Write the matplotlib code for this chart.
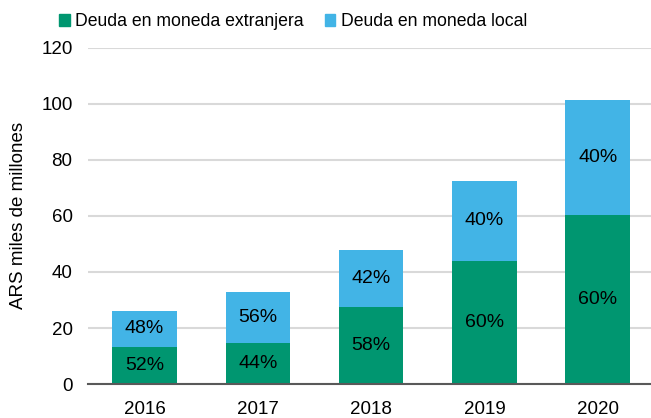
import numpy as np
import matplotlib.pyplot as plt
from matplotlib.patches import Patch

plt.rcParams.update({"font.family": ["Liberation Sans", "DejaVu Sans"], "font.size": 13})

years = ["2016", "2017", "2018", "2019", "2020"]
total = [26.2, 32.8, 47.9, 72.6, 101.2]
extranjera = [13.3, 14.5, 27.5, 43.8, 60.2]
local = [t - e for t, e in zip(total, extranjera)]
pct_ext = ["52%", "44%", "58%", "60%", "60%"]
pct_loc = ["48%", "56%", "42%", "40%", "40%"]

green = "#009670"
blue = "#42B4E6"

fig = plt.figure(figsize=(6.51, 4.18), dpi=100)
ax = fig.add_axes([0.135, 0.081, 0.865, 0.805])

x = np.arange(len(years))
w = 0.57
ax.bar(x, extranjera, w, color=green, zorder=3)
ax.bar(x, local, w, bottom=extranjera, color=blue, zorder=3)

for i in range(len(years)):
    ax.text(x[i], extranjera[i] / 2, pct_ext[i], ha="center", va="center", fontsize=14, zorder=4)
    ax.text(x[i], extranjera[i] + local[i] / 2, pct_loc[i], ha="center", va="center", fontsize=14, zorder=4)

ax.set_xlim(-0.5, 4.47)
ax.set_ylim(0, 120)
ax.set_yticks(range(0, 121, 20))
ax.set_xticks(x)
ax.set_xticklabels(years)
ax.tick_params(length=0, labelsize=13.5)
ax.tick_params(axis="y", pad=11)
ax.tick_params(axis="x", pad=12)
ax.yaxis.grid(True, color="#d9d9d9", linewidth=1.5, zorder=0)
for s in ["top", "right", "left"]:
    ax.spines[s].set_visible(False)
ax.spines["bottom"].set_color("#595959")
ax.spines["bottom"].set_linewidth(1.5)
ax.spines["bottom"].set_zorder(5)
ax.set_ylabel("ARS miles de millones", fontsize=13.5, labelpad=10)

handles = [Patch(color=green, label="Deuda en moneda extranjera"),
           Patch(color=blue, label="Deuda en moneda local")]
fig.legend(handles=handles, loc="center left", bbox_to_anchor=(0.08, 0.948), ncol=2,
           frameon=False, fontsize=12.7, handlelength=0.6, handleheight=0.6,
           handletextpad=0.3, columnspacing=1.2, borderaxespad=0)

plt.savefig("out.png", dpi=100)
